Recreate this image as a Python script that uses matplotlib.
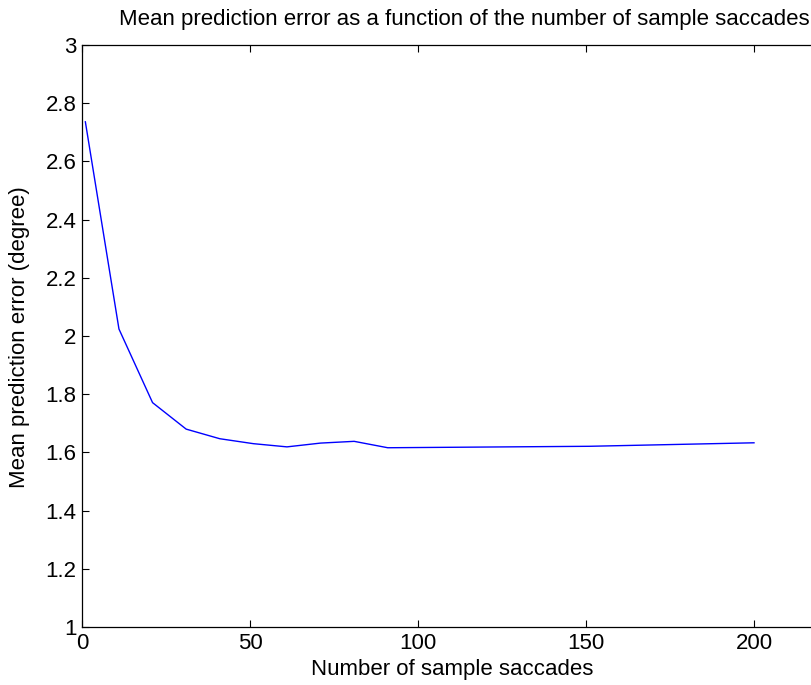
import matplotlib
matplotlib.use("Agg")
import matplotlib.pyplot as plt

plt.rcParams['font.family'] = ['Liberation Sans', 'DejaVu Sans']

n_saccades = [1, 11, 21, 31, 41, 51, 61, 71, 81, 91, 151, 200]
mean_error = [2.736, 2.024, 1.771, 1.680, 1.647, 1.630, 1.619, 1.632, 1.638, 1.616, 1.621, 1.633]
yticks = [1, 1.2, 1.4, 1.6, 1.8, 2, 2.2, 2.4, 2.6, 2.8, 3]
xticks = [0, 50, 100, 150, 200]

W, H = 812, 685
fig = plt.figure(figsize=(W / 100, H / 100), dpi=100)
left, right, bottom, top = 82, 812, 627, 45
ax = fig.add_axes([left / W, 1 - bottom / H, (right - left) / W, (bottom - top) / H])

ax.plot(n_saccades, mean_error, color='#0000ff', linewidth=1.0)
ax.set_xlim(0, (right - left) / 3.36)
ax.set_ylim(1, 3)
ax.set_xticks(xticks)
ax.set_yticks(yticks)
ax.set_yticklabels([f"{v:g}" for v in yticks])
ax.tick_params(direction='in', length=5, width=0.8, labelsize=16, top=True, right=False,
               pad=4, colors='black')
for s in ax.spines.values():
    s.set_linewidth(0.9)
    s.set_color('black')
ax.spines['right'].set_visible(False)

fig.text(452 / W, 1 - 669 / H, 'Number of sample saccades', ha='center', va='center', fontsize=16)
fig.text(20 / W, 1 - 337 / H, 'Mean prediction error (degree)', ha='center', va='center',
         rotation=90, fontsize=16)
fig.text(464 / W, 1 - 19 / H, 'Mean prediction error as a function of the number of sample saccades',
         ha='center', va='center', fontsize=16)

fig.savefig('out.png', dpi=100, facecolor='white')
